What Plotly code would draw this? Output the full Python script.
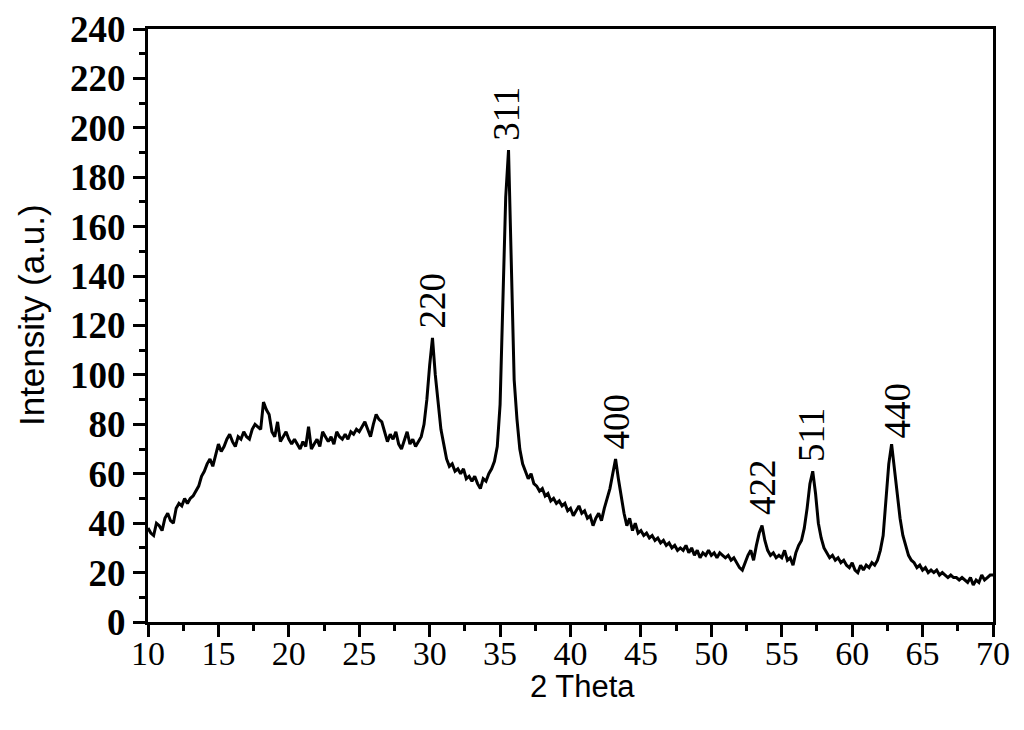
import numpy as np
import plotly.graph_objects as go

# 2-theta sampling grid (0.2 deg steps) and intensities
two_theta = np.round(np.arange(10.0, 70.01, 0.2), 1)
intensity = [
    38, 36, 35, 40, 39, 37, 42, 44, 41, 40,   # 10.0 - 11.8
    46, 48, 47, 50, 48, 50, 51, 53, 55, 59,   # 12.0 - 13.8
    61, 64, 66, 63, 68, 72, 69, 71, 74, 76,   # 14.0 - 15.8
    73, 71, 75, 74, 77, 75, 74, 78, 80, 79,   # 16.0 - 17.8
    78, 89, 86, 84, 77, 75, 81, 73, 75, 77,   # 18.0 - 19.8
    74, 72, 74, 72, 70, 73, 71, 79, 70, 72,   # 20.0 - 21.8
    74, 71, 77, 75, 73, 75, 72, 77, 75, 74,   # 22.0 - 23.8
    76, 74, 77, 76, 78, 77, 79, 81, 78, 75,   # 24.0 - 25.8
    80, 84, 82, 81, 77, 73, 76, 74, 77, 72,   # 26.0 - 27.8
    70, 74, 77, 72, 74, 71, 73, 75, 80, 90,   # 28.0 - 29.8
    104, 115, 100, 88, 78, 72, 66, 63, 64, 61,  # 30.0 - 31.8
    62, 60, 62, 58, 59, 57, 59, 56, 54, 58,   # 32.0 - 33.8
    57, 60, 62, 65, 71, 88, 128, 172, 191, 142,  # 34.0 - 35.8
    98, 82, 70, 64, 61, 58, 60, 56, 55, 53,   # 36.0 - 37.8
    54, 51, 52, 49, 50, 48, 49, 47, 48, 45,   # 38.0 - 39.8
    46, 43, 45, 47, 44, 45, 42, 43, 39, 42,   # 40.0 - 41.8
    44, 41, 46, 50, 54, 60, 66, 58, 50, 44,   # 42.0 - 43.8
    39, 42, 37, 40, 36, 37, 35, 36, 34, 35,   # 44.0 - 45.8
    33, 34, 32, 33, 31, 32, 30, 31, 29, 30,   # 46.0 - 47.8
    29, 31, 28, 30, 27, 29, 26, 28, 27, 29,   # 48.0 - 49.8
    27, 28, 26, 28, 27, 26, 27, 25, 26, 24,   # 50.0 - 51.8
    22, 21, 24, 27, 29, 25, 31, 36, 39, 33,   # 52.0 - 53.8
    29, 27, 28, 26, 27, 26, 29, 25, 26, 23,   # 54.0 - 55.8
    28, 31, 33, 38, 46, 56, 61, 52, 40, 34,   # 56.0 - 57.8
    30, 28, 26, 27, 25, 26, 24, 25, 23, 22,   # 58.0 - 59.8
    24, 21, 20, 23, 21, 23, 22, 24, 23, 25,   # 60.0 - 61.8
    29, 35, 48, 64, 72, 62, 50, 42, 35, 31,   # 62.0 - 63.8
    27, 25, 24, 22, 23, 21, 22, 20, 21, 20,   # 64.0 - 65.8
    21, 19, 20, 19, 18, 19, 18, 18, 17, 18,   # 66.0 - 67.8
    17, 16, 18, 15, 17, 16, 19, 17, 18, 19,   # 68.0 - 69.8
    19,                                       # 70.0
]

# peak indices (hkl) and where their labels sit
peak_labels = ["220", "311", "400", "422", "511", "440"]
peak_x = [30.17, 35.5, 43.3, 53.67, 57.15, 63.2]
peak_label_y = [118, 194, 69, 42.5, 64, 73.6]

fig = go.Figure()
fig.add_trace(go.Scatter(
    x=two_theta, y=intensity, mode="lines",
    line=dict(color="black", width=3),
    showlegend=False, hoverinfo="skip",
))

for lab, px, py in zip(peak_labels, peak_x, peak_label_y):
    fig.add_annotation(
        x=px, y=py, text=lab, showarrow=False, textangle=-90,
        xanchor="center", yanchor="bottom",
        font=dict(family="Liberation Serif", size=37, color="black"),
    )

# axis titles placed as annotations to match the reference positions
fig.add_annotation(
    x=0.514, y=-0.108, xref="paper", yref="paper", text="2 Theta",
    showarrow=False, xanchor="center", yanchor="middle",
    font=dict(family="Liberation Sans", size=31, color="black"),
)
fig.add_annotation(
    x=-0.137, y=0.518, xref="paper", yref="paper", text="Intensity (a.u.)",
    showarrow=False, textangle=-90, xanchor="center", yanchor="middle",
    font=dict(family="Liberation Sans", size=35, color="black"),
)

fig.update_xaxes(
    range=[10, 70], dtick=5, tick0=10, automargin=False,
    showline=True, linecolor="black", linewidth=3, mirror=True,
    ticks="outside", ticklen=12, tickwidth=2.5, tickcolor="black",
    minor=dict(dtick=2.5, tick0=10, ticks="outside", ticklen=6, tickwidth=2.5, tickcolor="black"),
    showgrid=False, zeroline=False, ticklabelstandoff=-13,
    tickfont=dict(family="Liberation Serif", size=34, color="black"),
)
fig.update_yaxes(
    range=[0, 240], dtick=20, tick0=0, automargin=False,
    showline=True, linecolor="black", linewidth=3, mirror=True,
    ticks="outside", ticklen=12, tickwidth=2.5, tickcolor="black",
    minor=dict(dtick=10, tick0=0, ticks="outside", ticklen=6, tickwidth=2.5, tickcolor="black"),
    showgrid=False, zeroline=False,
    tickfont=dict(family="Liberation Serif", size=37, color="black", weight="bold"),
)

fig.update_layout(
    width=1024, height=730,
    margin=dict(l=140, r=39, t=21, b=116),
    paper_bgcolor="white", plot_bgcolor="white",
)

fig.write_html("out.html")
